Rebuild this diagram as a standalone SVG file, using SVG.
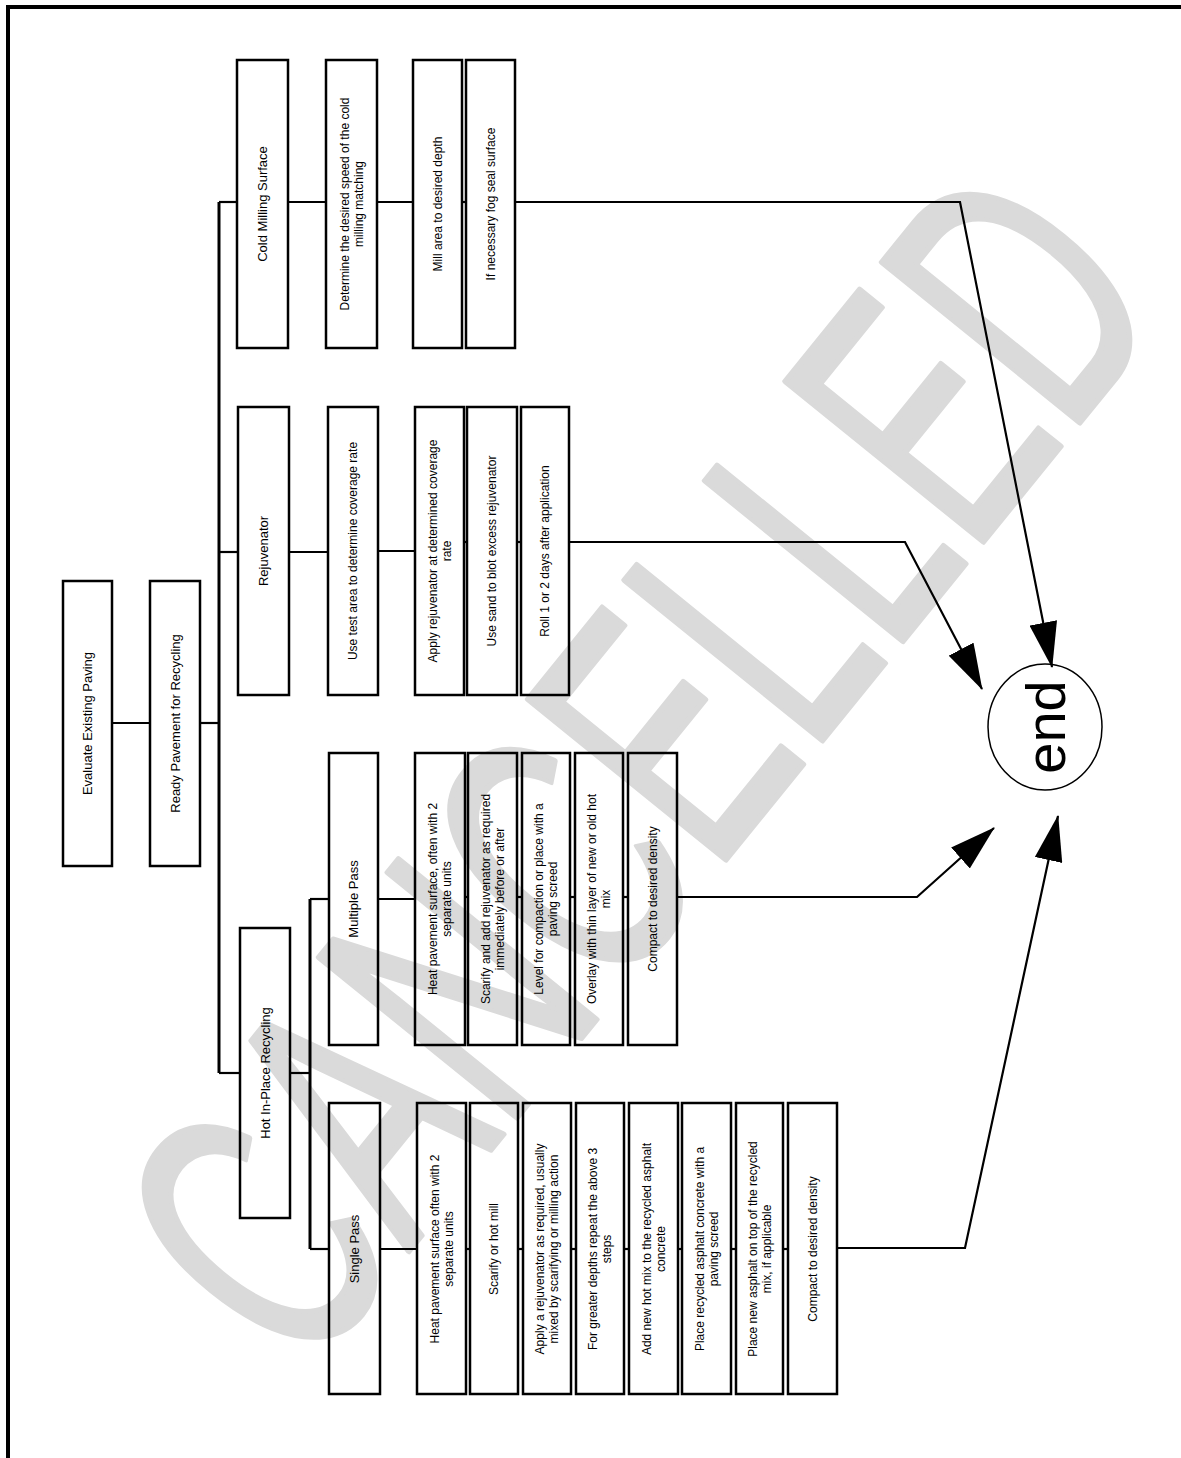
<svg xmlns="http://www.w3.org/2000/svg" width="1181" height="1458" viewBox="0 0 1181 1458">
<defs>
<style>
.box{fill:none;stroke:#000;stroke-width:2.5}
.t{font-family:"Liberation Sans",Arial,sans-serif;font-size:12px;fill:#000;text-anchor:middle}
.tb{font-family:"Liberation Sans",Arial,sans-serif;font-size:13px;fill:#000;text-anchor:middle}
.c{fill:none;stroke:#000;stroke-width:2.2}
.wm{font-family:"Liberation Sans",Arial,sans-serif;font-size:370px;fill:#dadada;stroke:#dadada;stroke-width:6;stroke-linejoin:round;text-anchor:middle}
</style>
<marker id="ah" viewBox="0 0 46 28" refX="45" refY="14" markerWidth="46" markerHeight="28" markerUnits="userSpaceOnUse" orient="auto">
<path d="M0,0 L46,14 L0,28 z" fill="#000"/>
</marker>
</defs>
<rect x="0" y="0" width="1181" height="1458" fill="#fff"/>
<g id="watermark">
<text class="wm" x="0" y="132" textLength="1380" lengthAdjust="spacingAndGlyphs" transform="translate(635,762) rotate(-51)">CANCELLED</text>
</g>
<g id="frame">
<line x1="6" y1="7" x2="1181" y2="7" stroke="#000" stroke-width="4"/>
<line x1="8" y1="5" x2="8" y2="1458" stroke="#000" stroke-width="4"/>
</g>
<g id="connectors">
<line class="c" x1="112" y1="723" x2="150" y2="723"/>
<line class="c" x1="200" y1="723" x2="219" y2="723"/>
<line class="c" x1="219" y1="202" x2="219" y2="1073" style="stroke-width:3"/>
<line class="c" x1="219" y1="202" x2="237" y2="202"/>
<line class="c" x1="288" y1="202" x2="326" y2="202"/>
<line class="c" x1="377" y1="202" x2="413" y2="202"/>
<line class="c" x1="462" y1="202" x2="466" y2="202"/>
<polyline class="c" points="515,202 960,202 1052,667" marker-end="url(#ah)"/>
<line class="c" x1="219" y1="552" x2="238" y2="552"/>
<line class="c" x1="289" y1="552" x2="328" y2="552"/>
<line class="c" x1="378" y1="551" x2="415" y2="551"/>
<line class="c" x1="464" y1="542" x2="467" y2="542"/>
<line class="c" x1="517" y1="542" x2="521" y2="542"/>
<polyline class="c" points="569,542 905,542 982,689" marker-end="url(#ah)"/>
<line class="c" x1="219" y1="1073" x2="240" y2="1073"/>
<line class="c" x1="290" y1="1073" x2="310" y2="1073"/>
<line class="c" x1="310" y1="899" x2="310" y2="1249" style="stroke-width:3"/>
<line class="c" x1="310" y1="899" x2="329" y2="899"/>
<line class="c" x1="378" y1="899" x2="415" y2="899"/>
<line class="c" x1="465" y1="897" x2="468" y2="897"/>
<line class="c" x1="517" y1="897" x2="522" y2="897"/>
<line class="c" x1="570" y1="897" x2="575" y2="897"/>
<line class="c" x1="623" y1="897" x2="628" y2="897"/>
<polyline class="c" points="677,897 917,897 994,828" marker-end="url(#ah)"/>
<line class="c" x1="310" y1="1249" x2="329" y2="1249"/>
<line class="c" x1="380" y1="1249" x2="417" y2="1249"/>
<line class="c" x1="466" y1="1249" x2="470" y2="1249"/>
<line class="c" x1="518" y1="1249" x2="523" y2="1249"/>
<line class="c" x1="571" y1="1249" x2="576" y2="1249"/>
<line class="c" x1="624" y1="1249" x2="629" y2="1249"/>
<line class="c" x1="678" y1="1249" x2="682" y2="1249"/>
<line class="c" x1="731" y1="1249" x2="736" y2="1249"/>
<line class="c" x1="783" y1="1249" x2="788" y2="1249"/>
<polyline class="c" points="837,1248 965,1248 1058,816" marker-end="url(#ah)"/>
</g>
<g id="evaluate"><rect class="box" x="63" y="581" width="49" height="285"/><text class="tb" transform="translate(87.5,723.5) rotate(-90)" dy="4.5">Evaluate Existing Paving</text></g>
<g id="ready"><rect class="box" x="150" y="581" width="50" height="285"/><text class="tb" transform="translate(175,723.5) rotate(-90)" dy="4.5">Ready Pavement for Recycling</text></g>
<g id="cold-milling"><rect class="box" x="237" y="60" width="51" height="288"/><text class="tb" transform="translate(262.5,204) rotate(-90)" dy="4.5">Cold Milling Surface</text></g>
<g id="cm1"><rect class="box" x="326" y="60" width="51" height="288"/><text class="t" transform="translate(351.5,204) rotate(-90)"><tspan x="0" dy="-3">Determine the desired speed of the cold</tspan><tspan x="0" dy="14">milling matching</tspan></text></g>
<g id="cm2"><rect class="box" x="413" y="60" width="49" height="288"/><text class="t" transform="translate(437.5,204) rotate(-90)" dy="4">Mill area to desired depth</text></g>
<g id="cm3"><rect class="box" x="466" y="60" width="49" height="288"/><text class="t" transform="translate(490.5,204) rotate(-90)" dy="4">If necessary fog seal surface</text></g>
<g id="rejuvenator"><rect class="box" x="238" y="407" width="51" height="288"/><text class="tb" transform="translate(263.5,551) rotate(-90)" dy="4.5">Rejuvenator</text></g>
<g id="rj1"><rect class="box" x="328" y="407" width="50" height="288"/><text class="t" transform="translate(353,551) rotate(-90)" dy="4">Use test area to determine coverage rate</text></g>
<g id="rj2"><rect class="box" x="415" y="407" width="49" height="288"/><text class="t" transform="translate(439.5,551) rotate(-90)"><tspan x="0" dy="-3">Apply rejuvenator at determined coverage</tspan><tspan x="0" dy="14">rate</tspan></text></g>
<g id="rj3"><rect class="box" x="467" y="407" width="50" height="288"/><text class="t" transform="translate(492,551) rotate(-90)" dy="4">Use sand to blot excess rejuvenator</text></g>
<g id="rj4"><rect class="box" x="521" y="407" width="48" height="288"/><text class="t" transform="translate(545,551) rotate(-90)" dy="4">Roll 1 or 2 days after application</text></g>
<g id="hot-in-place"><rect class="box" x="240" y="928" width="50" height="290"/><text class="tb" transform="translate(265,1073) rotate(-90)" dy="4.5">Hot In-Place Recycling</text></g>
<g id="multiple-pass"><rect class="box" x="329" y="753" width="49" height="292"/><text class="tb" transform="translate(353.5,899) rotate(-90)" dy="4.5">Multiple Pass</text></g>
<g id="mp1"><rect class="box" x="415" y="753" width="50" height="292"/><text class="t" transform="translate(440,899) rotate(-90)"><tspan x="0" dy="-3">Heat pavement surface, often with 2</tspan><tspan x="0" dy="14">separate units</tspan></text></g>
<g id="mp2"><rect class="box" x="468" y="753" width="49" height="292"/><text class="t" transform="translate(492.5,899) rotate(-90)"><tspan x="0" dy="-3">Scarify and add rejuvenator as required</tspan><tspan x="0" dy="14">immediately before or after</tspan></text></g>
<g id="mp3"><rect class="box" x="522" y="753" width="48" height="292"/><text class="t" transform="translate(546,899) rotate(-90)"><tspan x="0" dy="-3">Level for compaction or place with a</tspan><tspan x="0" dy="14">paving screed</tspan></text></g>
<g id="mp4"><rect class="box" x="575" y="753" width="48" height="292"/><text class="t" transform="translate(599,899) rotate(-90)"><tspan x="0" dy="-3">Overlay with thin layer of new or old hot</tspan><tspan x="0" dy="14">mix</tspan></text></g>
<g id="mp5"><rect class="box" x="628" y="753" width="49" height="292"/><text class="t" transform="translate(652.5,899) rotate(-90)" dy="4">Compact to desired density</text></g>
<g id="single-pass"><rect class="box" x="329" y="1103" width="51" height="291"/><text class="tb" transform="translate(354.5,1249) rotate(-90)" dy="4.5">Single Pass</text></g>
<g id="sp1"><rect class="box" x="417" y="1103" width="49" height="291"/><text class="t" transform="translate(441.5,1249) rotate(-90)"><tspan x="0" dy="-3">Heat pavement surface often with 2</tspan><tspan x="0" dy="14">separate units</tspan></text></g>
<g id="sp2"><rect class="box" x="470" y="1103" width="48" height="291"/><text class="t" transform="translate(494,1249) rotate(-90)" dy="4">Scarify or hot mill</text></g>
<g id="sp3"><rect class="box" x="523" y="1103" width="48" height="291"/><text class="t" transform="translate(547,1249) rotate(-90)"><tspan x="0" dy="-3">Apply a rejuvenator as required, usually</tspan><tspan x="0" dy="14">mixed by scarifying or milling action</tspan></text></g>
<g id="sp4"><rect class="box" x="576" y="1103" width="48" height="291"/><text class="t" transform="translate(600,1249) rotate(-90)"><tspan x="0" dy="-3">For greater depths repeat the above 3</tspan><tspan x="0" dy="14">steps</tspan></text></g>
<g id="sp5"><rect class="box" x="629" y="1103" width="49" height="291"/><text class="t" transform="translate(653.5,1249) rotate(-90)"><tspan x="0" dy="-3">Add new hot mix to the recycled asphalt</tspan><tspan x="0" dy="14">concrete</tspan></text></g>
<g id="sp6"><rect class="box" x="682" y="1103" width="49" height="291"/><text class="t" transform="translate(706.5,1249) rotate(-90)"><tspan x="0" dy="-3">Place recycled asphalt concrete with a</tspan><tspan x="0" dy="14">paving screed</tspan></text></g>
<g id="sp7"><rect class="box" x="736" y="1103" width="47" height="291"/><text class="t" transform="translate(759.5,1249) rotate(-90)"><tspan x="0" dy="-3">Place new asphalt on top of the recycled</tspan><tspan x="0" dy="14">mix, if applicable</tspan></text></g>
<g id="sp8"><rect class="box" x="788" y="1103" width="49" height="291"/><text class="t" transform="translate(812.5,1249) rotate(-90)" dy="4">Compact to desired density</text></g>
<g id="end"><ellipse cx="1045" cy="727" rx="57" ry="63" fill="none" stroke="#000" stroke-width="1.5"/><text transform="translate(1045,727) rotate(-90)" dy="20" style="font-family:'Liberation Sans',Arial,sans-serif;font-size:56px;text-anchor:middle">end</text></g>
</svg>
